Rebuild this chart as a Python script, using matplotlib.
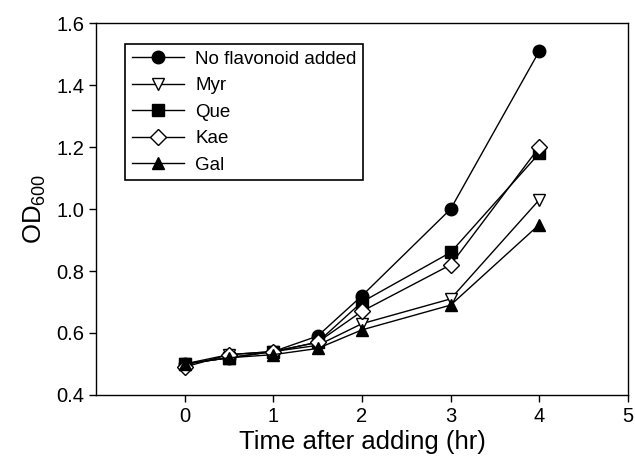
import matplotlib
matplotlib.use('Agg')
import matplotlib.pyplot as plt

plt.rcParams['font.family'] = ['Liberation Sans', 'DejaVu Sans']
plt.rcParams['mathtext.fontset'] = 'custom'
plt.rcParams['mathtext.rm'] = 'Liberation Sans'

time = [0, 0.5, 1, 1.5, 2, 3, 4]
no_flav = [0.50, 0.52, 0.54, 0.59, 0.72, 1.00, 1.51]
myr = [0.50, 0.53, 0.54, 0.56, 0.63, 0.71, 1.03]
que = [0.50, 0.52, 0.54, 0.57, 0.70, 0.86, 1.18]
kae = [0.49, 0.53, 0.54, 0.57, 0.67, 0.82, 1.20]
gal = [0.50, 0.52, 0.53, 0.55, 0.61, 0.69, 0.95]

fig = plt.figure(figsize=(6.35, 4.63), dpi=100)
ax = fig.add_axes([0.151, 0.147, 0.838, 0.803])

style = dict(color='black', lw=1, ms=9, mec='black', mew=1)
ax.plot(time, no_flav, marker='o', mfc='black', label='No flavonoid added', **style)
ax.plot(time, myr, marker='v', mfc='white', label='Myr', **style)
ax.plot(time, que, marker='s', mfc='black', label='Que', **style)
ax.plot(time, kae, marker='D', mfc='white', label='Kae', **dict(style, ms=8))
ax.plot(time, gal, marker='^', mfc='black', label='Gal', **style)

ax.set_xlim(-1, 5)
ax.set_ylim(0.4, 1.6)
ax.set_xticks([0, 1, 2, 3, 4, 5])
ax.set_yticks([0.4, 0.6, 0.8, 1.0, 1.2, 1.4, 1.6])
ax.set_yticklabels(['0.4', '0.6', '0.8', '1.0', '1.2', '1.4', '1.6'])
ax.tick_params(direction='out', length=5, width=1, labelsize=14.5)
for s in ax.spines.values():
    s.set_linewidth(1)

ax.set_xlabel('Time after adding (hr)', fontsize=18.5, labelpad=3)
ax.set_ylabel('OD$_{600}$', fontsize=18.5, labelpad=6)

leg = ax.legend(loc='upper left', bbox_to_anchor=(0.055, 0.944), borderaxespad=0,
                fontsize=13.5, fancybox=False, framealpha=1, edgecolor='black',
                handlelength=2.8, labelspacing=0.5, borderpad=0.35, handletextpad=0.6)
leg.get_frame().set_linewidth(1.2)

fig.savefig('out.png', dpi=100)
